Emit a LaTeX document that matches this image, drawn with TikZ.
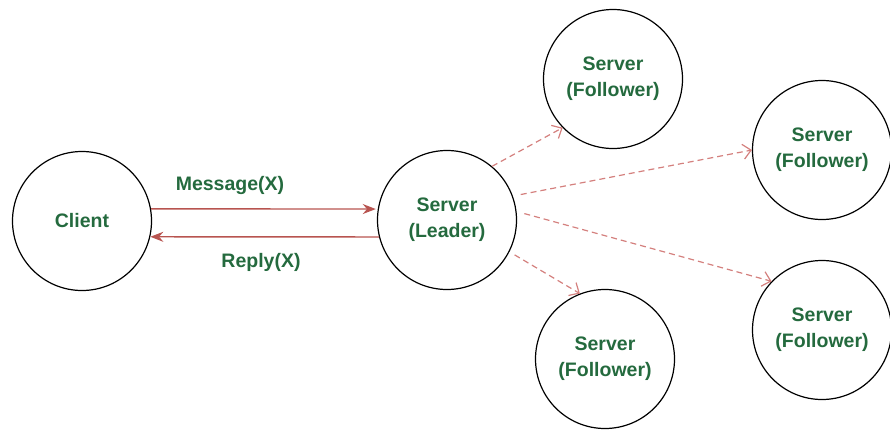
\documentclass[tikz,border=0pt]{standalone}
\usepackage{fontspec}
\setmainfont{Liberation Sans}
\usetikzlibrary{arrows.meta}
\definecolor{msgred}{RGB}{184,84,80}
\definecolor{dashred}{RGB}{212,128,126}
\definecolor{lblgreen}{RGB}{36,106,62}
\begin{document}
\begin{tikzpicture}[scale=0.35146]
\tikzstyle{every node}+=[inner sep=0pt]
\tikzstyle{srv}=[draw=black, line width=1.2pt, circle, minimum size=139pt, align=center, text=lblgreen, font=\fontsize{19.5}{26}\selectfont\bfseries]
\tikzstyle{lbl}=[text=lblgreen, font=\fontsize{19.5}{24}\selectfont\bfseries]
\tikzstyle{req}=[msgred, line width=1.4pt, -{Stealth[length=13pt,width=10pt]}]
\tikzstyle{repl}=[dashred, line width=1.2pt, dash pattern=on 6pt off 4pt, -{Straight Barb[length=8pt,width=15pt]}]
\useasboundingbox (0,0) rectangle (89,-43);
% nodes
\node [srv] (client) at (8.2,-22.1) {Client};
\node [srv] (leader) at (44.7,-22.0) {Server\\(Leader)};
\node [srv] (f1) at (61.3,-7.9) {Server\\(Follower)};
\node [srv] (f2) at (82.2,-15.0) {Server\\(Follower)};
\node [srv] (f3) at (60.5,-35.9) {Server\\(Follower)};
\node [srv] (f4) at (82.2,-33.0) {Server\\(Follower)};
% client <-> leader
\draw [req, shorten >=2pt] (client.10) -- (leader.171);
\draw (23.0,-18.5) node [lbl] (msg) {Message(X)};
\draw [req] (leader.194) -- (client.-13);
\draw (26.1,-26.2) node [lbl] (rep) {Reply(X)};
% leader -> followers
\draw [repl] (leader.50) -- (f1.224);
\draw [repl, shorten <=8pt] (leader.20) -- (f2.180);
\draw [repl, shorten <=8pt] (leader.7) -- (f4.136);
\draw [repl, shorten <=6pt] (leader.-27) -- (f3.111);
\end{tikzpicture}
\end{document}
